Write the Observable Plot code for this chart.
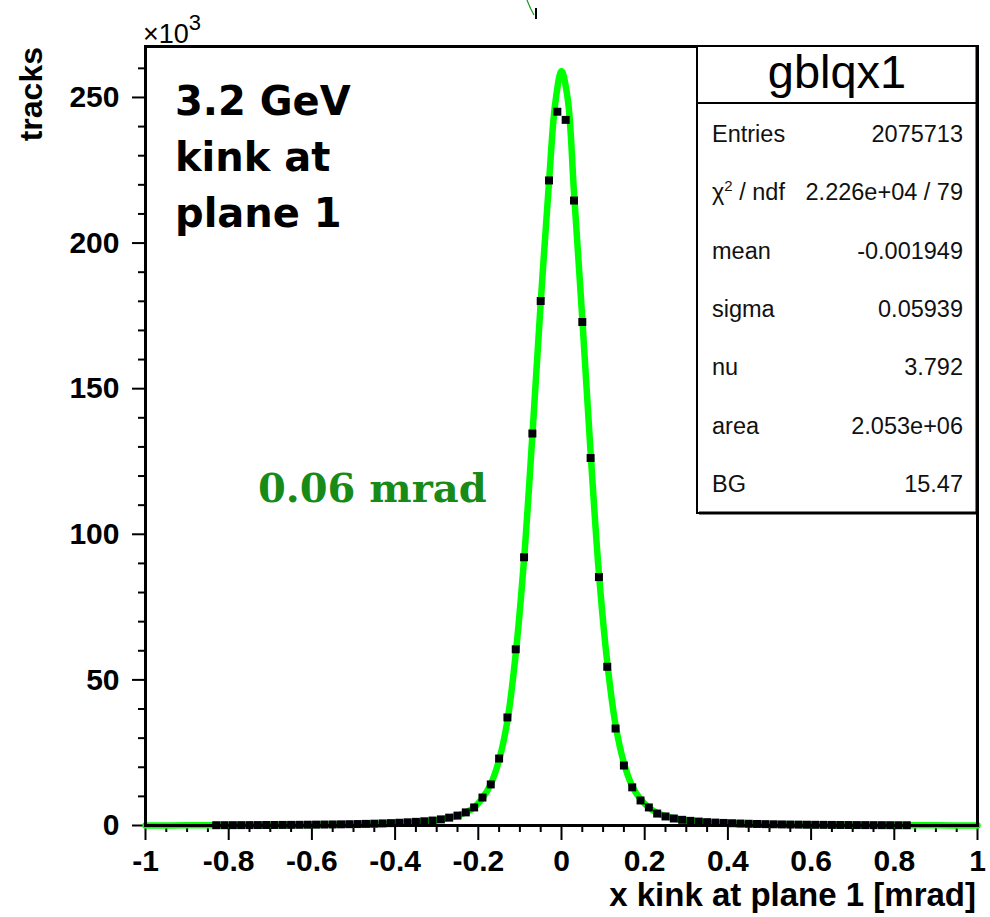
<!DOCTYPE html>
<html><head><meta charset="utf-8">
<script src="https://cdn.jsdelivr.net/npm/d3@7"></script>
<script src="https://cdn.jsdelivr.net/npm/@observablehq/plot@0.6"></script>
<style>html,body{margin:0;padding:0;background:#fff} svg{display:block}</style>
</head><body><div id="chart"></div>
<script>
// ---------- data (counts in thousands of tracks) ----------
const binCenters = [-0.83,-0.81,-0.79,-0.77,-0.75,-0.73,-0.71,-0.69,-0.67,-0.65,-0.63,-0.61,-0.59,-0.57,-0.55,-0.53,-0.51,-0.49,-0.47,-0.45,-0.43,-0.41,-0.39,-0.37,-0.35,-0.33,-0.31,-0.29,-0.27,-0.25,-0.23,-0.21,-0.19,-0.17,-0.15,-0.13,-0.11,-0.09,-0.07,-0.05,-0.03,-0.01,
  0.01,0.03,0.05,0.07,0.09,0.11,0.13,0.15,0.17,0.19,0.21,0.23,0.25,0.27,0.29,0.31,0.33,0.35,0.37,0.39,0.41,0.43,0.45,0.47,0.49,0.51,0.53,0.55,0.57,0.59,0.61,0.63,0.65,0.67,0.69,0.71,0.73,0.75,0.77,0.79,0.81,0.83];
const counts = [0.10,0.11,0.12,0.13,0.14,0.15,0.17,0.18,0.20,0.22,0.24,0.27,0.30,0.33,0.36,0.40,0.45,0.50,0.56,0.63,0.72,0.82,0.95,1.10,1.25,1.45,1.70,2.10,2.70,3.40,4.50,6.20,9.60,14.1,23.0,37.1,60.5,92.1,134.6,180.1,221.5,245.1,
  242.3,214.6,172.9,126.2,85.3,54.5,33.3,20.6,13.1,8.6,6.2,4.1,3.1,2.4,1.95,1.6,1.35,1.15,1.0,0.88,0.78,0.68,0.6,0.53,0.47,0.42,0.37,0.33,0.3,0.27,0.24,0.22,0.2,0.18,0.16,0.15,0.14,0.13,0.12,0.11,0.1,0.09];
const fitX = [-1,-0.9,-0.8,-0.7,-0.6,-0.5,-0.45,-0.4,-0.35,-0.31,-0.29,-0.27,-0.25,-0.23,-0.21,-0.19,-0.17,-0.15,-0.13,-0.11,-0.09,-0.07,-0.05,-0.03,-0.015,0,0.015,0.03,0.05,0.07,0.09,0.11,0.13,0.15,0.17,0.19,0.21,0.23,0.25,0.27,0.29,0.31,0.35,0.4,0.45,0.5,0.6,0.7,0.8,0.9,1];
const fitY = [0.03,0.05,0.08,0.12,0.2,0.33,0.45,0.68,1.05,1.6,2.1,2.7,3.4,4.5,6.2,9.4,14.2,22.5,36,59,91.5,134,179.5,221,248,259,249.5,217.5,174,128,86.5,56,34.5,21.5,13.5,9,6.2,4.3,3.2,2.5,2.0,1.6,1.0,0.68,0.45,0.33,0.2,0.12,0.08,0.05,0.03];
const xMajorTicks = [-1,-0.8,-0.6,-0.4,-0.2,0,0.2,0.4,0.6,0.8,1];
const xMinorTicks = [-0.95,-0.9,-0.85,-0.75,-0.7,-0.65,-0.55,-0.5,-0.45,-0.35,-0.3,-0.25,-0.15,-0.1,-0.05,0.05,0.1,0.15,0.25,0.3,0.35,0.45,0.5,0.55,0.65,0.7,0.75,0.85,0.9,0.95];
const yMajorTicks = [0,50,100,150,200,250];
const yMinorTicks = [10,20,30,40,60,70,80,90,110,120,130,140,160,170,180,190,210,220,230,240,260];
const histName = "gblqx1";
const statNames = ["Entries","χ","mean","sigma","nu","area","BG"];
const statValues = ["2075713","2.226e+04 / 79","-0.001949","0.05939","3.792","2.053e+06","15.47"];
const annotationLines = ["3.2 GeV","kink at","plane 1"];
const widthLabel = "0.06 mrad";
const xTitle = "x kink at plane 1 [mrad]";
const yTitle = "tracks";
const yExponent = "3";

// ---------- chart ----------
const W = 990, H = 917, ML = 145, MR = 13, MT = 46, MB = 92;
const points = binCenters.map((x, i) => ({x, y: counts[i]}));
const fit = fitX.map((x, i) => ({x, y: fitY[i]}));
const sans = "'Liberation Sans', Arial, Helvetica, sans-serif";

const plot = Plot.plot({
  width: W, height: H,
  marginLeft: ML, marginRight: MR, marginTop: MT, marginBottom: MB,
  x: {domain: [-1, 1], label: null},
  y: {domain: [0, 267.5], label: null},
  style: {fontFamily: sans, background: "white", color: "black", overflow: "visible"},
  marks: [
    Plot.axisY({ticks: yMinorTicks, tickSize: 7, tickFormat: () => "", strokeWidth: 2, label: null}),
    Plot.axisY({ticks: yMajorTicks, tickSize: 13, tickPadding: 13, fontSize: 30, fontWeight: "bold", tickFormat: d => String(d), strokeWidth: 2, label: null}),
    Plot.axisX({ticks: xMinorTicks, tickSize: 7, tickFormat: () => "", strokeWidth: 2, label: null}),
    Plot.axisX({ticks: xMajorTicks, tickSize: 15, tickPadding: 9, fontSize: 30, fontWeight: "bold", tickFormat: d => String(d), strokeWidth: 2, label: null}),
    Plot.line(fit, {x: "x", y: "y", stroke: "#00ff00", strokeWidth: 6.5, curve: "catmull-rom"}),
    Plot.dot(points, {x: "x", y: "y", symbol: "square", r: 4.5, fill: "#000008", stroke: null}),
    Plot.frame({stroke: "black", strokeWidth: 3})
  ]
});
document.getElementById("chart").appendChild(plot);

const svg = d3.select(plot);
const g = svg.append("g").attr("text-anchor", "start");

// small fragment of a neighbouring pad at the top edge
g.append("path").attr("d", "M527,0 Q530,8 534,15").attr("fill", "none")
  .attr("stroke", "#1a9a1a").attr("stroke-width", 1.2);
g.append("line").attr("x1", 536).attr("x2", 536).attr("y1", 8).attr("y2", 19)
  .attr("stroke", "black").attr("stroke-width", 2);

// ×10^3
const ex = g.append("text").attr("x", 143).attr("y", 43).attr("text-anchor", "start")
  .attr("font-family", sans).attr("font-size", 27).attr("fill", "black");
ex.append("tspan").text("×10");
ex.append("tspan").attr("font-size", 22).attr("dy", -13).text(yExponent);

// y title
g.append("text").attr("transform", "translate(42,47) rotate(-90)")
  .attr("text-anchor", "end").attr("font-family", sans).attr("font-weight", "bold")
  .attr("font-size", 32).attr("fill", "black").text(yTitle);

// x title
g.append("text").attr("x", 976).attr("y", 906).attr("text-anchor", "end")
  .attr("font-family", sans).attr("font-weight", "bold").attr("font-size", 33)
  .attr("fill", "black").text(xTitle);

// annotation
annotationLines.forEach((s, i) => {
  g.append("text").attr("x", 175).attr("y", 115 + i * 56).attr("text-anchor", "start")
    .attr("font-family", "'DejaVu Sans', sans-serif").attr("font-weight", "bold")
    .attr("font-size", 40).attr("fill", "black").text(s);
});
g.append("text").attr("x", 258).attr("y", 502).attr("text-anchor", "start")
  .attr("font-family", "'DejaVu Serif', serif").attr("font-weight", "bold")
  .attr("font-size", 40).attr("fill", "#178a17").text(widthLabel);

// stats box
const bx = 697, by = 46, bw = 280, bh = 467;
g.append("rect").attr("x", bx).attr("y", by).attr("width", bw).attr("height", bh)
  .attr("fill", "white").attr("stroke", "black").attr("stroke-width", 2);
g.append("line").attr("x1", bx).attr("x2", bx + bw).attr("y1", 103).attr("y2", 103)
  .attr("stroke", "black").attr("stroke-width", 2);
g.append("line").attr("x1", bx + bw).attr("x2", bx + bw).attr("y1", by).attr("y2", by + bh + 1)
  .attr("stroke", "black").attr("stroke-width", 3);
g.append("line").attr("x1", bx + 2).attr("x2", bx + bw).attr("y1", by + bh).attr("y2", by + bh)
  .attr("stroke", "black").attr("stroke-width", 3);
g.append("text").attr("x", bx + bw / 2).attr("y", 88).attr("text-anchor", "middle")
  .attr("font-family", sans).attr("font-size", 47).attr("fill", "black").text(histName);
statNames.forEach((n, i) => {
  const yy = 142 + i * 58.3;
  const t = g.append("text").attr("x", 712).attr("y", yy).attr("text-anchor", "start")
    .attr("font-family", sans).attr("font-size", 23.5).attr("fill", "#111");
  if (n === "χ") {
    t.append("tspan").text("χ");
    t.append("tspan").attr("font-size", 15).attr("dy", -9).text("2");
    t.append("tspan").attr("dy", 9).text(" / ndf");
  } else {
    t.text(n);
  }
  g.append("text").attr("x", 963).attr("y", yy).attr("text-anchor", "end")
    .attr("font-family", sans).attr("font-size", 23.5).attr("fill", "#111").text(statValues[i]);
});
</script>
</body></html>
